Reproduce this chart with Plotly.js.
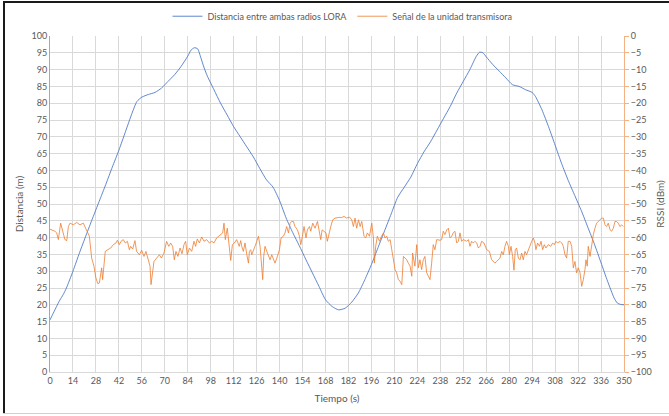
<!DOCTYPE html>
<html>
<head>
<meta charset="utf-8">
<script src="https://cdn.plot.ly/plotly-3.0.1.min.js"></script>
<style>
  html, body { margin: 0; padding: 0; background: #ffffff; }
  #wrap { position: relative; width: 669px; height: 416px; overflow: hidden; }
  #chart { position: absolute; left: 0; top: 0; width: 669px; height: 416px; }
  .frame-top { position: absolute; left: 3px; top: 1px; width: 670px; height: 2px; background: #1a1a1a; }
  .frame-left { position: absolute; left: 3px; top: 1px; width: 2px; height: 413px; background: #1a1a1a; }
  .frame-bottom { position: absolute; left: 3px; top: 413px; width: 670px; height: 1px; background: #d0d0d0; }
</style>
</head>
<body>
<div id="wrap">
  <div id="chart"></div>
  <div class="frame-top"></div>
  <div class="frame-left"></div>
  <div class="frame-bottom"></div>
</div>
<script>
// ---- Data: distance between both LORA radios (m) ----
const timeDist = [0,2,4,6,8,10,14,18,22,26,30,34,38,42,46,50,53,56,60,64,68,72,76,80,84,86,88,90,92,94,96,100,104,108,112,116,120,124,128,132,136,140,144,148,152,156,160,164,168,172,176,180,184,188,192,196,200,204,208,212,216,220,224,228,232,236,240,244,248,252,256,260,262,264,266,270,274,278,282,286,290,294,296,300,304,308,312,316,320,324,328,332,336,340,344,346,348,350];
const distance = [15.5,17.5,19.5,21.4,23,25,30,35.5,40.7,45.8,50.8,55.8,61,66,71.5,77,80.5,81.8,82.6,83.2,84.5,86.5,88.5,91,94,95.8,96.5,96.2,93.5,90.5,88,84,80,76.5,73,70,67,64,60.5,57.2,55,51,45.8,41.5,37.6,33.5,29.5,25.5,21.5,19.5,18.5,19,20.8,23.5,27.5,32,37,42,47,52,55,58,62,65.5,68.5,72,75.5,79,83,86.5,90,94,95.2,95,93.8,91.5,89.5,87.5,85.5,85,84,83.2,82,78,73,67.5,62,57,52.5,48,43,38,32.5,27,22,20.5,20.1,20];

// ---- Data: signal of the transmitting unit (RSSI, dBm) ----
const timeRssi = [0,1.0,3.0,4.1,5.1,6.5,7.7,9.1,10.2,11.2,12.2,14.2,16.3,18.3,20.3,22.4,24.0,25.4,26.8,28.0,29.1,30.1,30.9,31.5,32.1,32.9,33.7,35.2,37.0,38.6,40.2,41.1,42.3,43.3,44.7,45.9,47.2,48.4,49.2,50.4,51.8,52.8,54.5,55.9,57.3,58.5,60.0,61.0,61.6,62.4,63.4,65.0,66.7,67.9,69.5,71.1,72.4,73.6,74.8,75.8,76.8,78.0,79.3,80.5,81.7,82.7,83.7,85.0,86.4,87.8,88.8,89.8,91.1,92.5,93.9,95.5,97.2,98.6,100.0,101.6,103.7,105.3,106.1,106.9,108.1,109.0,110.2,111.2,112.4,113.8,115.4,
  116.3,116.9,117.9,118.9,120.0,121.0,121.6,122.4,123.0,124.0,125.0,126.1,127.1,128.1,129.1,129.7,130.3,131.1,132.2,133.2,134.2,135.2,136.2,137.2,138.3,139.9,140.9,142.3,143.3,144.3,145.4,146.4,147.4,148.4,149.4,150.9,152.1,152.9,153.9,154.9,156.1,156.9,158.2,159.0,160.2,161.6,163.1,164.3,165.1,165.9,167.1,168.3,169.1,170.2,171.2,172.4,173.8,175.9,177.9,179.3,180.9,182.6,184.0,185.0,186.0,187.0,188.1,189.1,190.1,191.5,192.5,193.5,194.8,196.2,197.2,197.8,198.6,199.6,200.9,202.1,203.3,204.3,205.3,206.3,207.4,208.4,209.4,210.4,211.4,212.4,213.5,214.5,215.5,216.5,217.5,218.5,219.6,220.6,
  221.1,222.5,223.6,224.6,225.6,226.6,227.6,228.6,229.7,230.7,231.7,232.7,233.7,234.7,235.8,237.8,238.8,239.8,240.8,241.9,242.9,243.9,244.9,245.9,246.9,248.0,249.0,250.0,251.0,252.0,254.1,255.1,256.1,257.1,258.1,259.1,260.2,261.2,262.2,263.2,264.6,266.3,267.9,269.3,270.3,271.3,272.3,273.4,274.4,275.4,276.4,277.4,278.4,279.5,280.1,281.1,282.1,282.9,283.7,284.5,285.6,286.6,287.6,288.6,289.6,290.6,291.7,292.7,293.7,294.7,295.7,296.3,297.3,298.4,299.4,300.4,301.4,302.4,303.8,305.3,306.5,307.5,308.5,309.5,311.0,312.0,313.0,314.0,315.0,316.0,317.1,318.1,319.1,320.1,321.1,322.1,323.2,324.2,325.2,326.2,326.8,327.6,328.2,329.3,330.3,331.3,332.3,333.3,334.3,335.4,336.4,337.4,338.4,339.4,340.4,341.5,342.5,343.5,344.5,345.5,346.5,347.5,348.6,349.6];
const rssi = [-57.5,-57.7,-58.1,-58.6,-60.6,-55.7,-57.7,-60.6,-60.9,-56.7,-55.7,-56.2,-55.5,-56.2,-55.7,-57.7,-59.6,-66.1,-68.5,-72.0,-73.7,-73.5,-71.0,-69.0,-72.5,-67.6,-64.1,-63.6,-63.1,-62.1,-61.6,-60.8,-62.1,-61.1,-60.6,-61.6,-61.1,-63.6,-62.6,-63.4,-60.9,-64.1,-65.1,-63.8,-65.6,-64.1,-67.1,-68.5,-74.0,-71.0,-67.1,-66.1,-65.1,-66.1,-64.6,-61.1,-62.6,-61.6,-62.6,-66.6,-64.1,-65.6,-63.1,-64.8,-62.1,-61.1,-65.1,-63.1,-64.1,-61.1,-62.6,-60.4,-61.6,-59.8,-61.1,-60.6,-61.6,-61.1,-61.6,-60.1,-59.1,-58.6,-55.7,-60.6,-57.2,-62.1,-66.8,-62.1,-61.6,-60.6,-62.6,
  -60.9,-62.6,-64.1,-61.6,-65.1,-67.6,-64.1,-63.6,-65.1,-64.1,-62.6,-61.1,-59.6,-62.6,-68.0,-72.5,-65.6,-62.6,-64.1,-65.1,-66.6,-65.1,-66.1,-67.6,-66.1,-63.6,-60.1,-59.6,-58.6,-56.7,-58.6,-55.7,-55.2,-55.2,-56.7,-57.7,-59.6,-62.1,-59.6,-56.7,-60.1,-57.7,-56.7,-58.1,-55.7,-57.2,-55.2,-58.1,-60.6,-57.7,-58.1,-58.6,-61.1,-58.6,-56.7,-54.7,-54.2,-54.0,-54.0,-53.7,-54.2,-53.9,-54.7,-56.7,-54.2,-57.2,-54.7,-56.7,-55.2,-59.6,-60.1,-58.6,-59.6,-55.7,-60.1,-67.6,-62.6,-59.6,-61.1,-59.6,-58.6,-60.1,-59.6,-61.1,-60.6,-63.6,-66.6,-69.5,-70.5,-72.5,-73.0,-74.0,-65.6,-66.1,-66.6,-67.6,-68.5,-71.5,
  -64.6,-68.5,-62.1,-69.0,-66.6,-69.5,-66.6,-65.6,-70.5,-71.5,-72.5,-67.6,-62.1,-63.6,-60.6,-60.8,-60.6,-58.1,-59.1,-57.7,-57.2,-60.1,-59.6,-58.6,-58.1,-61.6,-61.1,-58.6,-61.1,-60.6,-61.1,-60.6,-62.6,-61.1,-61.6,-61.1,-61.6,-63.1,-62.6,-61.1,-61.6,-63.6,-64.1,-66.6,-67.1,-67.6,-67.1,-66.6,-66.1,-64.1,-65.1,-62.6,-61.1,-62.6,-65.1,-62.6,-65.6,-69.7,-63.6,-63.1,-66.1,-66.6,-64.6,-66.6,-64.1,-65.1,-63.6,-62.1,-61.1,-60.1,-61.6,-63.6,-61.6,-62.6,-61.1,-63.6,-62.1,-63.1,-62.1,-62.6,-61.6,-62.1,-61.1,-61.6,-61.1,-61.6,-62.6,-65.1,-66.1,-61.1,-61.1,-62.6,-69.0,-67.1,-70.5,-69.0,-70.5,-74.5,-72.5,-69.5,-66.6,-68.5,-62.6,-65.6,-61.6,-59.1,-57.2,-55.7,-55.2,-54.7,-54.2,-54.2,-56.2,-56.7,-55.7,-57.7,-58.1,-57.2,-55.2,-55.2,-55.7,-56.7,-56.2,-56.7];

// ---- Axis ticks ----
const xTicks = [0,14,28,42,56,70,84,98,112,126,140,154,168,182,196,210,224,238,252,266,280,294,308,322,336,350];
const seriesNames = ['Distancia entre ambas radios LORA', 'Señal de la unidad transmisora'];

const FONT = 'Lato, "Open Sans", "Liberation Sans", sans-serif';
const TICK = {family: FONT, size: 9, color: '#595959'};
const TITLE = {family: FONT, size: 10, color: '#595959'};

const traces = [
  {x: timeDist, y: distance, type: 'scatter', mode: 'lines', name: seriesNames[0],
   line: {color: '#4472C4', width: 1, shape: 'spline', smoothing: 0.6}, opacity: 0.85, yaxis: 'y'},
  {x: timeRssi, y: rssi, type: 'scatter', mode: 'lines', name: seriesNames[1],
   line: {color: '#ED7D31', width: 1}, opacity: 0.8, yaxis: 'y2'}
];

const layout = {
  width: 669, height: 416,
  margin: {l: 50, r: 45, t: 36, b: 44, autoexpand: false},
  paper_bgcolor: '#ffffff', plot_bgcolor: '#ffffff',
  font: {family: FONT, color: '#595959', size: 9},
  showlegend: true,
  legend: {orientation: 'h', xref: 'container', yref: 'container', x: 0.512, xanchor: 'center',
           y: 0.961, yanchor: 'middle',
           font: {family: FONT, size: 9, color: '#595959'}, itemwidth: 30, tracegroupgap: 0},
  xaxis: {
    range: [0, 350], tickmode: 'array', tickvals: xTicks, ticktext: xTicks.map(String),
    showgrid: true, gridcolor: '#d9d9d9', gridwidth: 1,
    showline: true, linecolor: '#d9d9d9', linewidth: 1,
    zeroline: false, ticks: '', tickfont: TICK, automargin: false,
    title: {text: 'Tiempo (s)', font: TITLE, standoff: 10}
  },
  yaxis: {
    range: [0, 100], dtick: 5, tick0: 0,
    showgrid: true, gridcolor: '#d9d9d9', gridwidth: 1,
    showline: true, linecolor: '#8FAADC', linewidth: 1,
    zeroline: false, ticks: '', tickfont: TICK, automargin: false,
    title: {text: 'Distancia (m)', font: TITLE, standoff: 6}
  },
  yaxis2: {
    range: [-100, 0], dtick: 5, tick0: 0, overlaying: 'y', side: 'right',
    showgrid: false, showline: true, linecolor: '#F4B183', linewidth: 1,
    zeroline: false, ticks: 'outside', ticklen: 4, tickcolor: '#F4B183', tickfont: TICK, automargin: false,
    title: {text: 'RSSI (dBm)', font: TITLE, standoff: 6}
  }
};

Plotly.newPlot('chart', traces, layout, {staticPlot: true, displayModeBar: false});
</script>
</body>
</html>
